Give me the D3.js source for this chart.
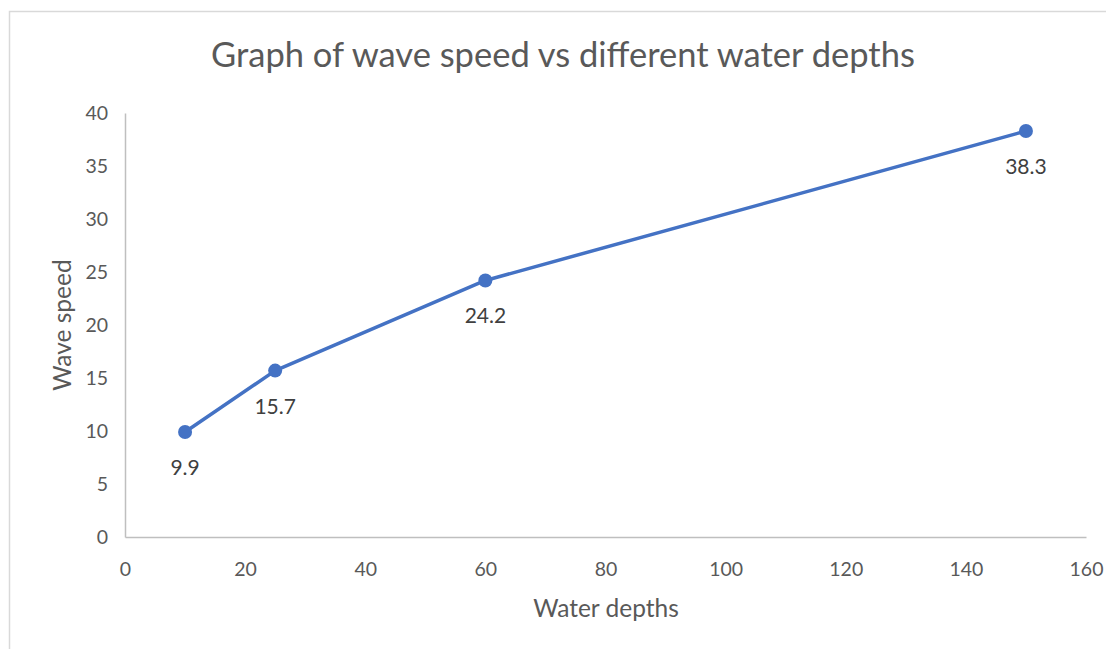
<!DOCTYPE html>
<html><head><meta charset="utf-8">
<script src="https://cdn.jsdelivr.net/npm/d3@7"></script>
<style>body{margin:0;background:#fff;} text{font-family:Lato,"Open Sans",sans-serif;}</style>
</head><body>
<svg id="c" width="1106" height="649"></svg>
<script>
const depths = [10, 25, 60, 150];
const speeds = [9.9, 15.7, 24.2, 38.3];
const xTicks = [0, 20, 40, 60, 80, 100, 120, 140, 160];
const yTicks = [0, 5, 10, 15, 20, 25, 30, 35, 40];
const title = "Graph of wave speed vs different water depths";
const xTitle = "Water depths";
const yTitle = "Wave speed";

const svg = d3.select("#c");
const x = d3.scaleLinear().domain([0,160]).range([125,1086]);
const y = d3.scaleLinear().domain([0,40]).range([537,113]);

// chart border
svg.append("path").attr("d","M9.5,649 V11.5 H1106").attr("fill","none").attr("stroke","#d9d9d9").attr("stroke-width",1.5);

svg.append("text").attr("x",563).attr("y",67).attr("text-anchor","middle")
  .attr("font-size",34.5).attr("fill","#595959").text(title);

// axes
const xa = svg.append("g").attr("transform","translate(0,537)")
  .call(d3.axisBottom(x).tickValues(xTicks).tickSize(0).tickPadding(25).tickFormat(d3.format("d")));
const ya = svg.append("g").attr("transform","translate(125,0)")
  .call(d3.axisLeft(y).tickValues(yTicks).tickSize(0).tickPadding(17).tickFormat(d3.format("d")));
[xa,ya].forEach(g=>{
  g.select(".domain").attr("stroke","#bfbfbf").attr("stroke-width",1.5);
  g.selectAll("text").attr("font-size",19.5).attr("fill","#595959").style("font-family","Lato,'Open Sans',sans-serif");
});
xa.selectAll("text").attr("dy","0.71em");

svg.append("text").attr("x",606).attr("y",617).attr("text-anchor","middle")
  .attr("font-size",24.5).attr("fill","#595959").text(xTitle);
svg.append("text").attr("transform","translate(71,325) rotate(-90)").attr("text-anchor","middle")
  .attr("font-size",24.5).attr("fill","#595959").text(yTitle);

const pts = depths.map((d,i)=>[d,speeds[i]]);
svg.append("path").datum(pts)
  .attr("d", d3.line().x(d=>x(d[0])).y(d=>y(d[1])))
  .attr("fill","none").attr("stroke","#4472c4").attr("stroke-width",3.5).attr("stroke-linejoin","round");
svg.selectAll("circle.m").data(pts).join("circle").attr("class","m")
  .attr("cx",d=>x(d[0])).attr("cy",d=>y(d[1])).attr("r",7).attr("fill","#4472c4");
svg.selectAll("text.lbl").data(pts).join("text").attr("class","lbl")
  .attr("x",d=>x(d[0])).attr("y",d=>y(d[1])+43).attr("text-anchor","middle")
  .attr("font-size",21).attr("fill","#404040").text(d=>d[1].toFixed(1));
</script>
</body></html>
